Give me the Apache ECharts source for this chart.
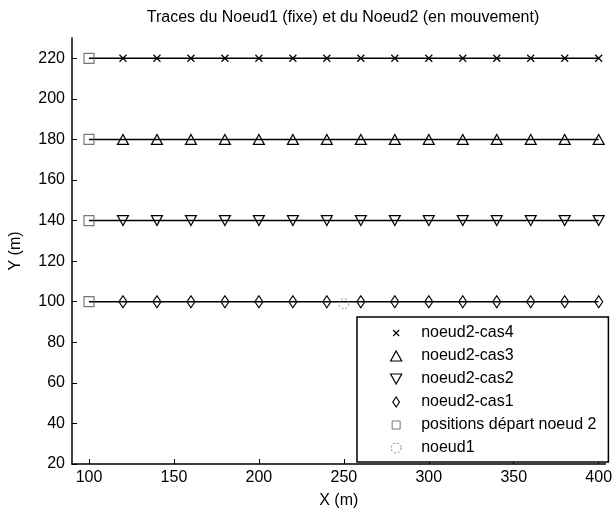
<!DOCTYPE html>
<html>
<head>
<meta charset="utf-8">
<script src="https://cdn.jsdelivr.net/npm/echarts@6/dist/echarts.min.js"></script>
<style>
  html, body { margin: 0; padding: 0; background: #fff; }
  #chart { width: 615px; height: 514px; }
</style>
</head>
<body>
<div id="chart"></div>
<script>
// Positions along X (m) of node 2 for every case
const xTrace = [100, 120, 140, 160, 180, 200, 220, 240, 260, 280, 300, 320, 340, 360, 380, 400];

// Y (m) of node 2 for each case
const yCas4 = [220, 220, 220, 220, 220, 220, 220, 220, 220, 220, 220, 220, 220, 220, 220, 220];
const yCas3 = [180, 180, 180, 180, 180, 180, 180, 180, 180, 180, 180, 180, 180, 180, 180, 180];
const yCas2 = [140, 140, 140, 140, 140, 140, 140, 140, 140, 140, 140, 140, 140, 140, 140, 140];
const yCas1 = [100, 100, 100, 100, 100, 100, 100, 100, 100, 100, 100, 100, 100, 100, 100, 100];

// Starting positions of node 2
const xStart = [100, 100, 100, 100];
const yStart = [100, 140, 180, 220];

// Node 1 (fixed)
const xNoeud1 = [250];
const yNoeud1 = [99];

// Tick labels
const xTicks = [100, 150, 200, 250, 300, 350, 400];
const yTicks = [20, 40, 60, 80, 100, 120, 140, 160, 180, 200, 220];

const names = {
  cas4: 'noeud2-cas4',
  cas3: 'noeud2-cas3',
  cas2: 'noeud2-cas2',
  cas1: 'noeud2-cas1',
  start: 'positions départ noeud 2',
  n1: 'noeud1'
};

const FONT = 'Liberation Sans, Arial, Helvetica, sans-serif';

// Marker shapes
const symCross = 'path://M0,0L10,10M0,10L10,0';
const symUp = 'path://M5,0L10,9L0,9Z';
const symDown = 'path://M0,0L10,0L5,9Z';
const symDiamond = 'path://M4,0L8,6L4,12L0,6Z';
const symSquare = 'path://M0,0L10,0L10,10L0,10Z';

// Legend icons (padded so that they keep their relative sizes)
const legCross = 'path://M-2,-2M0,0L6,6M0,6L6,0M8,8';
const legSquare = 'path://M-1,-1M0,0L8,0L8,8L0,8ZM9,9';
const legDiamond = 'path://M-1,0M4,0L8,6L4,12L0,6ZM9,12';

const zip = (xs, ys) => xs.map((x, i) => [x, ys[i]]);

// Line through the whole trace; the start point carries no marker
function traceData(ys) {
  return zip(xTrace, ys).map((p, i) => i === 0 ? { value: p, symbol: 'none' } : p);
}

const hollow = { color: 'rgba(0,0,0,0)', borderColor: '#000', borderWidth: 1.2 };
const lineStyle = { color: '#000', width: 1.5 };

function traceSeries(name, ys, symbol, size) {
  return {
    name: name,
    type: 'line',
    data: traceData(ys),
    symbol: symbol,
    symbolSize: size,
    showAllSymbol: true,
    itemStyle: hollow,
    lineStyle: lineStyle,
    emphasis: { disabled: true },
    animation: false,
    z: 2
  };
}

const legendItem = (name, icon, extra) => ({
  name: name,
  icon: icon,
  itemStyle: Object.assign({ color: 'rgba(0,0,0,0)', borderColor: '#000', borderWidth: 1.2 }, extra || {})
});

const option = {
  backgroundColor: '#fff',
  animation: false,
  title: {
    text: 'Traces du Noeud1 (fixe) et du Noeud2 (en mouvement)',
    left: 338,
    textAlign: 'center',
    top: 5,
    textStyle: { fontFamily: FONT, fontSize: 16, fontWeight: 'normal', color: '#000' }
  },
  grid: { left: 70, right: 7, top: 38, bottom: 43, containLabel: false },
  xAxis: {
    type: 'value',
    min: 90,
    max: 404,
    name: 'X (m)',
    nameLocation: 'middle',
    nameGap: 29,
    nameTextStyle: { fontFamily: FONT, fontSize: 16, color: '#000' },
    axisLine: { lineStyle: { color: '#000', width: 1.5 } },
    axisTick: { inside: true, length: 5, customValues: xTicks, lineStyle: { color: '#000', width: 1 } },
    axisLabel: { customValues: xTicks, color: '#000', fontSize: 16, margin: 6, fontFamily: FONT },
    splitLine: { show: false }
  },
  yAxis: {
    type: 'value',
    min: 20,
    max: 230,
    name: 'Y (m)',
    nameLocation: 'middle',
    nameGap: 48,
    nameTextStyle: { fontFamily: FONT, fontSize: 16, color: '#000' },
    axisLine: { lineStyle: { color: '#000', width: 1.5 } },
    axisTick: { inside: true, length: 5, customValues: yTicks, lineStyle: { color: '#000', width: 1 } },
    axisLabel: { customValues: yTicks, color: '#000', fontSize: 16, margin: 7, fontFamily: FONT },
    splitLine: { show: false }
  },
  legend: {
    orient: 'vertical',
    left: 357,
    top: 317,
    padding: [8, 12, 6, 33],
    itemWidth: 40,
    itemHeight: 10,
    itemGap: 7,
    backgroundColor: '#fff',
    borderColor: '#000',
    borderWidth: 1.5,
    borderRadius: 0,
    selectedMode: false,
    symbolKeepAspect: true,
    textStyle: { fontFamily: FONT, fontSize: 16, color: '#000', lineHeight: 16 },
    data: [
      legendItem(names.cas4, legCross),
      legendItem(names.cas3, symUp),
      legendItem(names.cas2, symDown),
      legendItem(names.cas1, legDiamond),
      legendItem(names.start, legSquare, { borderColor: '#555', borderWidth: 1 }),
      legendItem(names.n1, 'circle', { borderColor: '#666', borderWidth: 1, borderType: [2, 2] })
    ]
  },
  series: [
    traceSeries(names.cas4, yCas4, symCross, 7),
    traceSeries(names.cas3, yCas3, symUp, [11, 10]),
    traceSeries(names.cas2, yCas2, symDown, [11, 10]),
    traceSeries(names.cas1, yCas1, symDiamond, [8, 12]),
    {
      name: names.start,
      type: 'scatter',
      data: zip(xStart, yStart),
      symbol: symSquare,
      symbolSize: 10,
      itemStyle: { color: 'rgba(0,0,0,0)', borderColor: '#555', borderWidth: 1.2 },
      emphasis: { disabled: true },
      z: 3
    },
    {
      name: names.n1,
      type: 'scatter',
      data: zip(xNoeud1, yNoeud1),
      symbol: 'circle',
      symbolSize: 10,
      itemStyle: { color: 'rgba(0,0,0,0)', borderColor: '#777', borderWidth: 1, borderType: [2, 2] },
      emphasis: { disabled: true },
      z: 3
    }
  ]
};

const chart = echarts.init(document.getElementById('chart'), null, { renderer: 'canvas' });
chart.setOption(option);
</script>
</body>
</html>
